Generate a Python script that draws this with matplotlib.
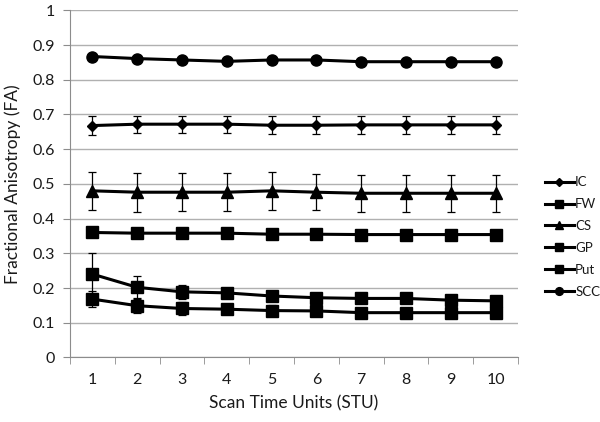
import matplotlib.pyplot as plt
from matplotlib.lines import Line2D
import numpy as np

plt.rcParams['font.family'] = ['Lato', 'DejaVu Sans']

stu = [1, 2, 3, 4, 5, 6, 7, 8, 9, 10]

ic = [0.668, 0.672, 0.672, 0.672, 0.669, 0.669, 0.670, 0.670, 0.670, 0.670]
ic_err = [0.028, 0.024, 0.024, 0.025, 0.026, 0.026, 0.026, 0.026, 0.026, 0.026]

fw = [0.360, 0.358, 0.358, 0.358, 0.355, 0.355, 0.354, 0.354, 0.354, 0.354]
fw_err = [0, 0, 0, 0, 0, 0, 0, 0, 0, 0]

cs = [0.480, 0.476, 0.476, 0.476, 0.480, 0.476, 0.473, 0.473, 0.473, 0.473]
cs_err = [0.054, 0.056, 0.054, 0.054, 0.054, 0.052, 0.053, 0.053, 0.053, 0.053]

gp = [0.240, 0.202, 0.189, 0.186, 0.177, 0.172, 0.170, 0.170, 0.165, 0.163]
gp_err = [0.060, 0.033, 0.020, 0.012, 0.008, 0.007, 0.007, 0.007, 0.007, 0.007]

put = [0.168, 0.149, 0.141, 0.139, 0.135, 0.134, 0.129, 0.129, 0.129, 0.129]
put_err = [0.024, 0.022, 0.018, 0.015, 0.015, 0.013, 0.012, 0.012, 0.012, 0.012]

scc = [0.867, 0.861, 0.857, 0.853, 0.857, 0.857, 0.852, 0.852, 0.852, 0.852]
scc_err = [0, 0, 0, 0, 0, 0, 0, 0, 0, 0]

series = [
    ('IC', ic, ic_err, 'D', 5.5),
    ('FW', fw, fw_err, 's', 8),
    ('CS', cs, cs_err, '^', 8),
    ('GP', gp, gp_err, 's', 8.5),
    ('Put', put, put_err, 's', 8.5),
    ('SCC', scc, scc_err, 'o', 8),
]

fig = plt.figure(figsize=(6, 4.22), dpi=100)
ax = fig.add_axes([0.1167, 0.153, 0.7466, 0.8225])

x = np.arange(len(stu))
handles = []
for name, vals, err, mk, ms in series:
    ax.errorbar(x, vals, yerr=err, color='black', lw=2.2, marker=mk, ms=ms,
                ecolor='black', elinewidth=0.9, capsize=3, capthick=0.9,
                zorder=3)
    handles.append(Line2D([], [], color='black', lw=2.2, marker=mk, ms=ms * 0.7))

ax.set_xlim(-0.5, len(stu) - 0.5)
ax.set_ylim(0, 1)
ax.set_yticks(np.arange(0, 1.01, 0.1))
ax.set_yticklabels(['0'] + ['%.1f' % v for v in np.arange(0.1, 0.95, 0.1)] + ['1'])
ax.set_xticks(x)
ax.set_xticklabels([str(s) for s in stu])
ax.set_xticks(np.arange(-0.5, len(stu), 1), minor=True)

ax.grid(axis='y', color='#b0b0b0', lw=1)
ax.set_axisbelow(True)
for side in ['top', 'right']:
    ax.spines[side].set_visible(False)
for side in ['left', 'bottom']:
    ax.spines[side].set_color('#8c8c8c')
ax.tick_params(axis='y', colors='#8c8c8c', labelcolor='#1a1a1a', labelsize=11.5,
               length=5, pad=6)
ax.tick_params(axis='x', which='major', length=0, labelcolor='#1a1a1a',
               labelsize=11.5, pad=11)
ax.tick_params(axis='x', which='minor', length=5, color='#8c8c8c')

ax.set_xlabel('Scan Time Units (STU)', fontsize=12.5, color='#1a1a1a', labelpad=6)
ax.set_ylabel('Fractional Anisotropy (FA)', fontsize=12.5, color='#1a1a1a', labelpad=8)

leg = fig.legend(handles=handles, labels=[s[0] for s in series],
                 loc='upper left', bbox_to_anchor=(0.897, 0.598),
                 frameon=False, fontsize=9.5, handlelength=2.2,
                 labelspacing=0.75, handletextpad=0.1, borderpad=0)
for t in leg.get_texts():
    t.set_color('#1a1a1a')

fig.savefig('out.png', dpi=100)
